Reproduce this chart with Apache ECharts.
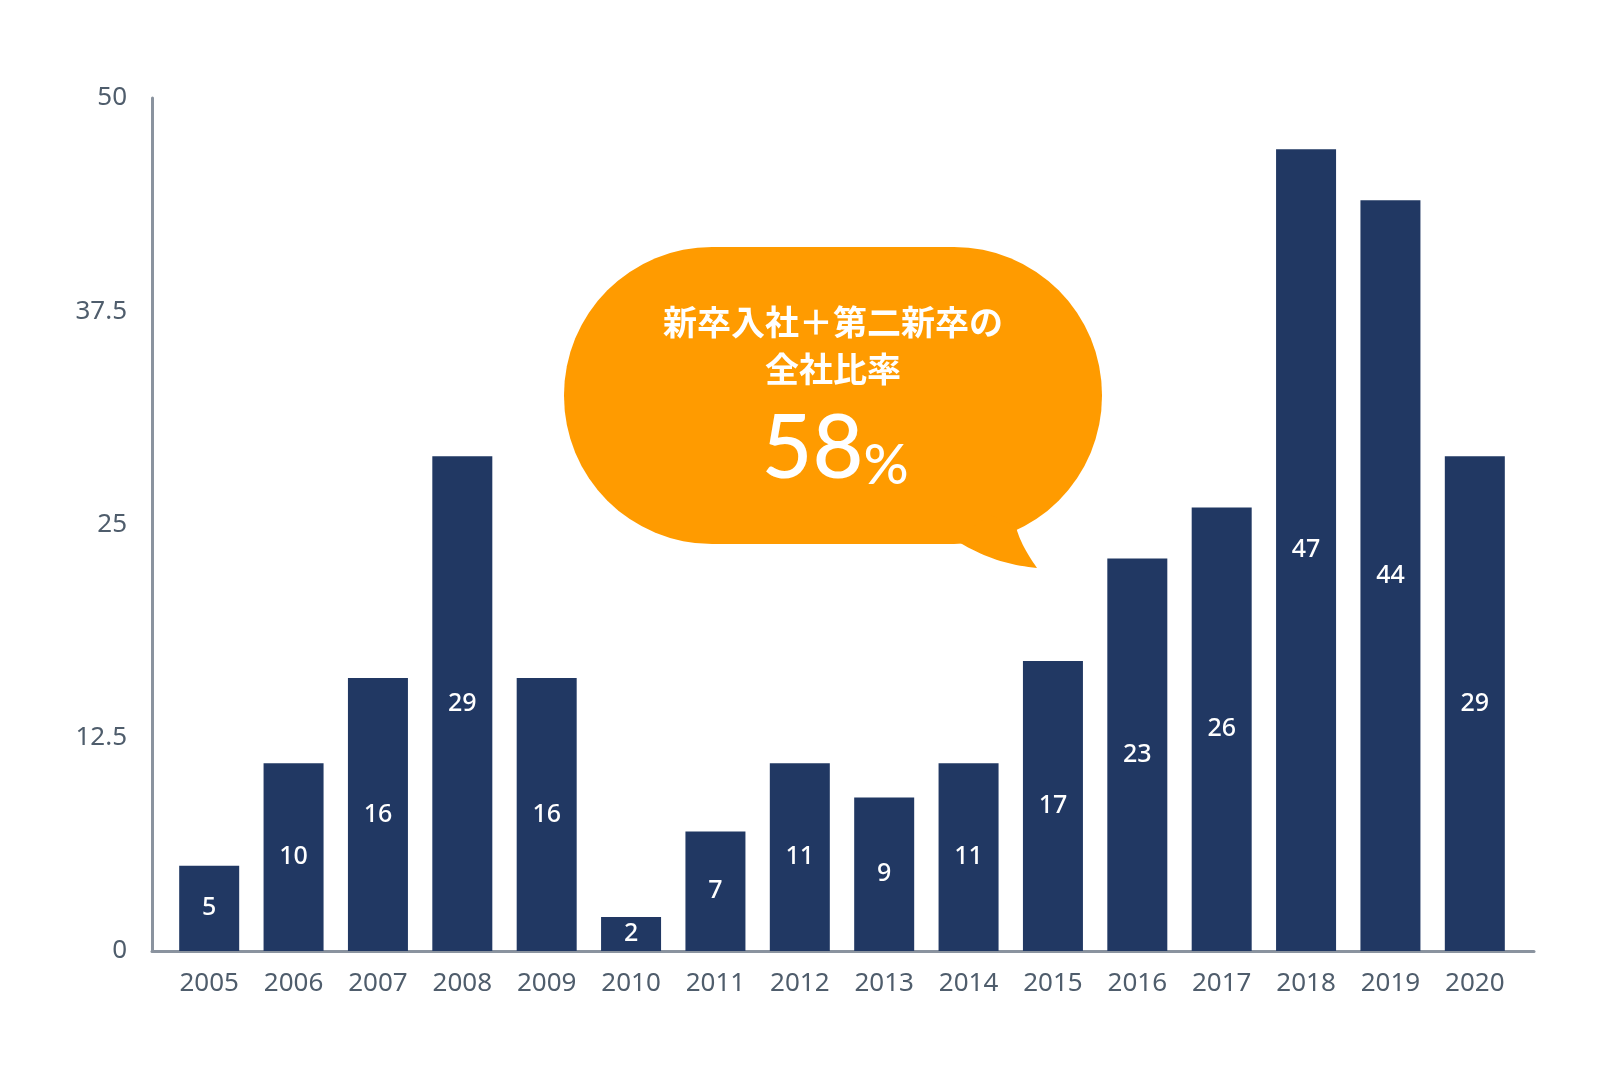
<!DOCTYPE html>
<html>
<head>
<meta charset="utf-8">
<script src="https://cdn.jsdelivr.net/npm/echarts@6/dist/echarts.min.js"></script>
<style>
html,body{margin:0;padding:0;background:#fff;}
#chart{width:1606px;height:1077px;}
</style>
</head>
<body>
<div id="chart"></div>
<script>
// ---- data ----
const years = ['2005','2006','2007','2008','2009','2010','2011','2012','2013','2014','2015','2016','2017','2018','2019','2020'];
const barValues = [5, 11, 16, 29, 16, 2, 7, 11, 9, 11, 17, 23, 26, 47, 44, 29];
const barLabels = ['5','10','16','29','16','2','7','11','9','11','17','23','26','47','44','29'];
const yTicks = [0, 12.5, 25, 37.5, 50];
const bubbleLine1 = '新卒入社＋第二新卒の';
const bubbleLine2 = '全社比率';
const bubbleNumber = '58';
const bubbleUnit = '%';

// ---- styles ----
const NAVY = '#213863';
const ORANGE = '#FF9B00';
const AXIS = '#8a939f';
const LABEL = '#4f5d6c';
const NUMFONT = '"Noto Sans", Lato, sans-serif';
const BIGFONT = 'Lato, "Noto Sans", sans-serif';
const JPFONT = '"Noto Sans CJK JP", "Noto Sans", sans-serif';

// bubble tail outline (decorative shape, cubic curves sampled)
function cubic(p0, p1, p2, p3, n) {
  const pts = [];
  for (let i = 0; i <= n; i++) {
    const t = i / n, u = 1 - t;
    pts.push([
      u*u*u*p0[0] + 3*u*u*t*p1[0] + 3*u*t*t*p2[0] + t*t*t*p3[0],
      u*u*u*p0[1] + 3*u*u*t*p1[1] + 3*u*t*t*p2[1] + t*t*t*p3[1]
    ]);
  }
  return pts;
}
const tailPts = []
  .concat(cubic([955, 540], [985, 558], [1008, 565], [1037, 568], 20))
  .concat(cubic([1037, 568], [1028, 555], [1020, 542], [1016, 527], 20))
  .concat([[990, 515]]);

const chart = echarts.init(document.getElementById('chart'));
const gridTop = 98, gridBottom = 126;

chart.setOption({
  animation: false,
  backgroundColor: '#ffffff',
  grid: [
    {left: 167, right: 89, top: gridTop, bottom: gridBottom},
    {left: 152, right: 72, top: gridTop, bottom: gridBottom}
  ],
  xAxis: [
    {
      type: 'category', gridIndex: 0, data: years,
      axisLine: {show: false}, axisTick: {show: false},
      axisLabel: {color: LABEL, fontSize: 26, fontFamily: NUMFONT, margin: 20}
    },
    {
      type: 'category', gridIndex: 1, data: years,
      axisLine: {show: true, lineStyle: {color: AXIS, width: 3}},
      axisTick: {show: false}, axisLabel: {show: false}
    }
  ],
  yAxis: [
    {
      type: 'value', gridIndex: 0, min: yTicks[0], max: yTicks[yTicks.length-1], interval: 12.5,
      show: false, splitLine: {show: false}
    },
    {
      type: 'value', gridIndex: 1, min: yTicks[0], max: yTicks[yTicks.length-1], interval: 12.5,
      axisLine: {show: true, lineStyle: {color: AXIS, width: 3}},
      axisTick: {show: false}, splitLine: {show: false},
      axisLabel: {color: LABEL, fontSize: 26, fontFamily: NUMFONT, margin: 25}
    }
  ],
  series: [{
    type: 'bar', xAxisIndex: 0, yAxisIndex: 0,
    data: barValues, barWidth: 60,
    itemStyle: {color: NAVY},
    label: {
      show: true, position: 'inside', color: '#ffffff', fontSize: 25, fontFamily: NUMFONT, fontWeight: 500,
      formatter: p => barLabels[p.dataIndex]
    }
  }],
  graphic: [
    {
      type: 'group', z: 100,
      children: [
        {type: 'rect', shape: {x: 564, y: 247, width: 538, height: 297, r: 148}, style: {fill: ORANGE}},
        {type: 'polygon', shape: {points: tailPts}, style: {fill: ORANGE}},
        {type: 'text', x: 833, y: 322, style: {text: bubbleLine1, fill: '#fff', font: 'bold 34px ' + JPFONT, textAlign: 'center', textVerticalAlign: 'middle'}},
        {type: 'text', x: 833, y: 369, style: {text: bubbleLine2, fill: '#fff', font: 'bold 34px ' + JPFONT, textAlign: 'center', textVerticalAlign: 'middle'}},
        {type: 'text', x: 835, y: 494, style: {
          text: '{a|' + bubbleNumber + '}{b|' + bubbleUnit + '}', fill: '#fff', textAlign: 'center', textVerticalAlign: 'bottom',
          rich: {
            a: {fontSize: 88, fontFamily: BIGFONT, fontWeight: 500, fill: '#fff', color: '#fff', verticalAlign: 'bottom'},
            b: {fontSize: 56, fontFamily: BIGFONT, fontWeight: 500, fill: '#fff', color: '#fff', verticalAlign: 'bottom'}
          }
        }}
      ]
    }
  ]
});
</script>
</body>
</html>
